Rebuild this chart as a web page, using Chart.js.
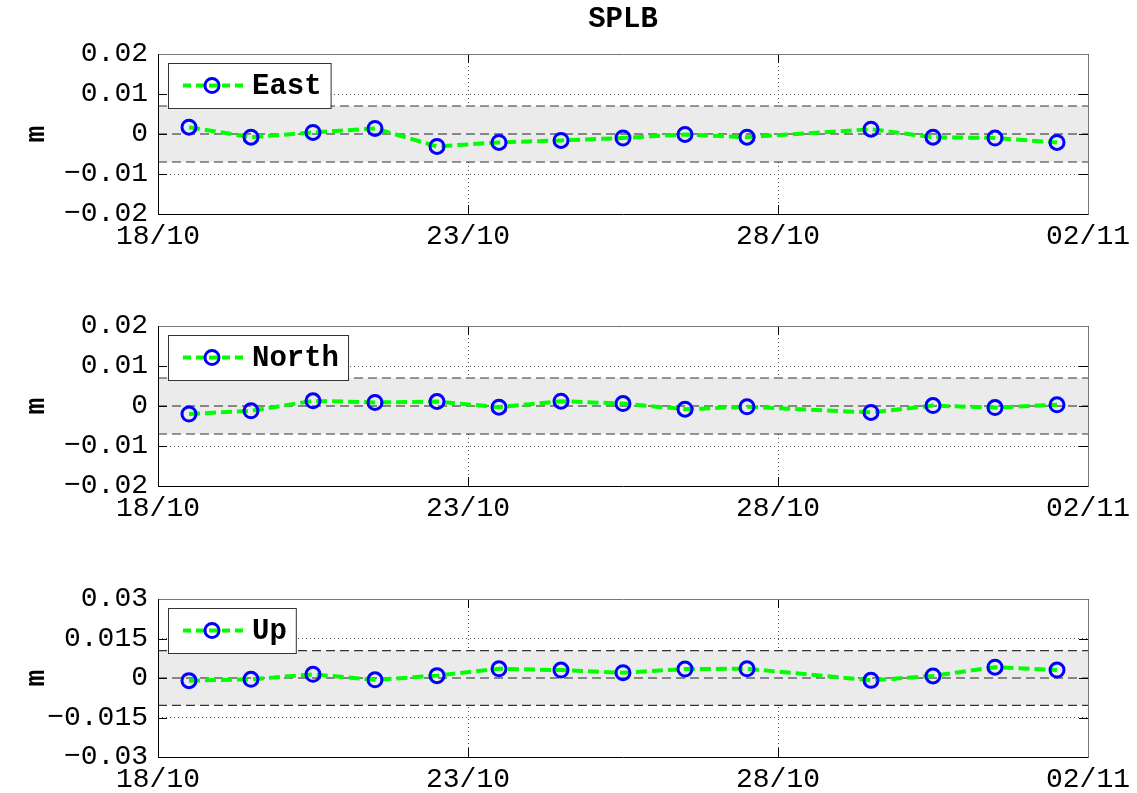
<!DOCTYPE html>
<html>
<head>
<meta charset="utf-8">
<script src="https://cdn.jsdelivr.net/npm/chart.js@4.4.0/dist/chart.umd.min.js"></script>
<style>
  html, body { margin: 0; padding: 0; background: #fff; overflow: hidden; }
  #wrap { position: relative; width: 1137px; height: 793px; }
  canvas { position: absolute; left: 0; }
</style>
</head>
<body>
<div id="wrap">
  <canvas id="east-chart" style="top:0px"></canvas>
  <canvas id="north-chart" style="top:272px"></canvas>
  <canvas id="up-chart" style="top:545px"></canvas>
</div>
<script>
const stationName = "SPLB";

// days after 18/10 00:00, one solution per day at noon (29/10 missing)
const days  = [0.5, 1.5, 2.5, 3.5, 4.5, 5.5, 6.5, 7.5, 8.5, 9.5, 11.5, 12.5, 13.5, 14.5];
const east  = [0.0017, -0.0008, 0.0004, 0.0014, -0.0031, -0.0021, -0.0016, -0.0010, -0.0001, -0.0008, 0.0012, -0.0008, -0.0010, -0.0021];
const north = [-0.0020, -0.0012, 0.0013, 0.0009, 0.0011, -0.0003, 0.0012, 0.0006, -0.0008, -0.0002, -0.0016, 0.0001, -0.0004, 0.0003];
const up    = [-0.0010, -0.0005, 0.0014, -0.0007, 0.0009, 0.0035, 0.0030, 0.0020, 0.0034, 0.0035, -0.0009, 0.0008, 0.0041, 0.0030];

const xTicks = [0, 5, 10, 15];
const xTickLabels = ["18/10", "23/10", "28/10", "02/11"];
const yTicksEN = [-0.02, -0.01, 0, 0.01, 0.02];
const yTickLabelsEN = ["\u22120.02", "\u22120.01", "0", "0.01", "0.02"];
const yTicksUp = [-0.03, -0.015, 0, 0.015, 0.03];
const yTickLabelsUp = ["\u22120.03", "\u22120.015", "0", "0.015", "0.03"];

// tolerance band half-widths (m)
const bandEN = 0.007;
const bandUp = 0.0104;

const MONO = "'Liberation Mono', 'DejaVu Sans Mono', monospace";

// box, inward ticks, legend and title, matlab style
const frame = {
  id: "frame",
  afterDraw(chart, args, opts) {
    const { ctx, chartArea: a, scales: { x, y } } = chart;
    ctx.save();

    ctx.strokeStyle = "#000";
    ctx.lineWidth = 1;
    ctx.beginPath();
    y.ticks.forEach(t => {
      const py = Math.round(y.getPixelForValue(t.value)) + 0.5;
      ctx.moveTo(a.left, py); ctx.lineTo(a.left + 9, py);
      ctx.moveTo(a.right, py); ctx.lineTo(a.right - 9, py);
    });
    x.ticks.forEach(t => {
      const px = Math.round(x.getPixelForValue(t.value)) + 0.5;
      ctx.moveTo(px, a.bottom); ctx.lineTo(px, a.bottom - 9);
      ctx.moveTo(px, a.top); ctx.lineTo(px, a.top + 9);
    });
    ctx.stroke();

    const L = Math.round(a.left) + 0.5, R = Math.round(a.right) + 0.5;
    const T = Math.round(a.top) + 0.5, B = Math.round(a.bottom) + 0.5;
    ctx.strokeStyle = "#777";
    ctx.beginPath();
    ctx.moveTo(L, T); ctx.lineTo(R, T); ctx.lineTo(R, B);
    ctx.stroke();
    ctx.strokeStyle = "#000";
    ctx.beginPath();
    ctx.moveTo(L, T); ctx.lineTo(L, B); ctx.lineTo(R, B);
    ctx.stroke();

    // legend box
    ctx.font = "bold 29px " + MONO;
    const tw = ctx.measureText(opts.label).width;
    const lx = Math.round(a.left) + 10, ly = Math.round(a.top) + 9;
    const lw = 84 + tw + 9, lh = 45;
    ctx.fillStyle = "#fff";
    ctx.fillRect(lx, ly, lw, lh);
    ctx.strokeStyle = "#333";
    ctx.strokeRect(lx + 0.5, ly + 0.5, lw, lh);
    const cy = ly + lh / 2;
    ctx.strokeStyle = "#00ff00";
    ctx.lineWidth = 4;
    ctx.setLineDash([8, 5]);
    ctx.beginPath();
    ctx.moveTo(lx + 15, cy); ctx.lineTo(lx + 76, cy);
    ctx.stroke();
    ctx.setLineDash([]);
    ctx.strokeStyle = "#0000ff";
    ctx.lineWidth = 3;
    ctx.beginPath();
    ctx.arc(lx + 44, cy, 7, 0, Math.PI * 2);
    ctx.stroke();
    ctx.fillStyle = "#000";
    ctx.textAlign = "left";
    ctx.textBaseline = "middle";
    ctx.fillText(opts.label, lx + 84, cy + 1);

    if (opts.title) {
      ctx.textAlign = "center";
      ctx.fillText(opts.title, (a.left + a.right) / 2, 20);
    }
    ctx.restore();
  }
};

function makePanel(id, height, label, values, yTicks, yLabels, band, title) {
  const canvas = document.getElementById(id);
  canvas.width = 1137;
  canvas.height = height;
  const flat = v => [{ x: xTicks[0], y: v }, { x: xTicks[xTicks.length - 1], y: v }];
  const dash = { borderWidth: 1.2, borderDash: [9, 5], pointRadius: 0, fill: false };

  return new Chart(canvas, {
    type: "line",
    data: {
      datasets: [
        {
          label,
          data: days.map((d, i) => ({ x: d, y: values[i] })),
          borderColor: "#00ff00",
          borderWidth: 4,
          borderDash: [11, 5],
          tension: 0,
          pointRadius: 7,
          pointBorderWidth: 3,
          pointBorderColor: "#0000ff",
          pointBackgroundColor: "rgba(0,0,0,0)",
          fill: false
        },
        { ...dash, data: flat(0), borderColor: "#222" },
        { ...dash, data: flat(band), borderColor: "#333", fill: { value: -band }, backgroundColor: "#ebebeb" },
        { ...dash, data: flat(-band), borderColor: "#333" }
      ]
    },
    options: {
      responsive: false,
      animation: false,
      events: [],
      layout: { padding: { top: 54, right: 49, left: 0, bottom: 0 } },
      plugins: {
        legend: { display: false },
        tooltip: { enabled: false },
        filler: { drawTime: "beforeDatasetsDraw" },
        frame: { label, title }
      },
      scales: {
        x: {
          type: "linear",
          min: xTicks[0],
          max: xTicks[xTicks.length - 1],
          afterBuildTicks: s => { s.ticks = xTicks.map(v => ({ value: v })); },
          afterFit: s => { s.height = 36; },
          ticks: {
            callback: (v, i) => xTickLabels[i],
            font: { family: MONO, size: 28 },
            color: "#000",
            padding: 6,
            maxRotation: 0,
            autoSkip: false
          },
          grid: { color: "#555", drawTicks: false },
          border: { display: false, dash: [1, 3] }
        },
        y: {
          min: yTicks[0],
          max: yTicks[yTicks.length - 1],
          afterBuildTicks: s => { s.ticks = yTicks.map(v => ({ value: v })); },
          afterFit: s => { s.width = 158; },
          ticks: {
            callback: (v, i) => yLabels[i],
            font: { family: MONO, size: 28 },
            color: "#000",
            padding: 10
          },
          title: {
            display: true,
            text: "m",
            color: "#000",
            font: { family: MONO, size: 28, weight: "bold" },
            padding: { top: 20, bottom: 0 }
          },
          grid: { color: "#555", drawTicks: false },
          border: { display: false, dash: [1, 3] }
        }
      }
    },
    plugins: [frame]
  });
}

makePanel("east-chart", 250, "East", east, yTicksEN, yTickLabelsEN, bandEN, stationName);
makePanel("north-chart", 250, "North", north, yTicksEN, yTickLabelsEN, bandEN);
makePanel("up-chart", 248, "Up", up, yTicksUp, yTickLabelsUp, bandUp);
</script>
</body>
</html>
